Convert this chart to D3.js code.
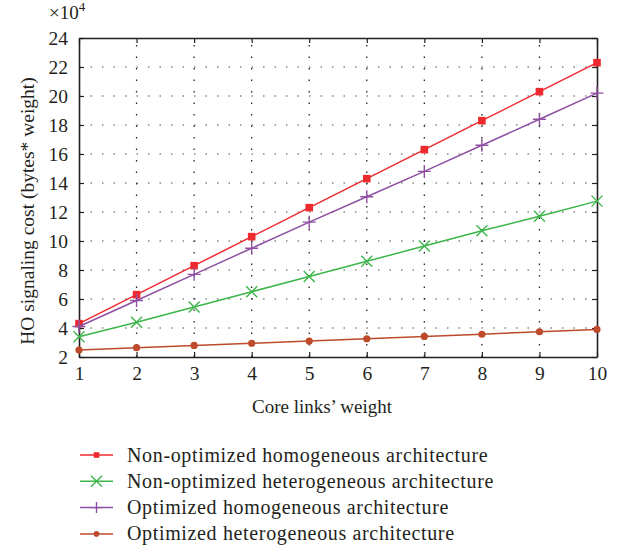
<!DOCTYPE html>
<html>
<head>
<meta charset="utf-8">
<script src="https://cdn.jsdelivr.net/npm/d3@7"></script>
<style>
  body { margin: 0; background: #fff; }
  text { font-family: "Liberation Serif", "DejaVu Serif", serif; fill: #231f20; }
</style>
</head>
<body>
<script>
// core links' weight
var weights = [1, 2, 3, 4, 5, 6, 7, 8, 9, 10]

// HO signaling cost, in units of 10^4
var nonOptHomo = [4.3, 6.3, 8.3, 10.3, 12.3, 14.3, 16.3, 18.3, 20.3, 22.3]
var nonOptHetero = [3.4, 4.4, 5.45, 6.5, 7.55, 8.6, 9.65, 10.7, 11.7, 12.75]
var optHomo = [4.1, 5.9, 7.7, 9.5, 11.3, 13.05, 14.8, 16.6, 18.4, 20.2]
var optHetero = [2.48, 2.64, 2.8, 2.95, 3.1, 3.26, 3.42, 3.57, 3.74, 3.9]

var seriesNames = [
    "Non-optimized homogeneous architecture",
    "Non-optimized heterogeneous architecture",
    "Optimized homogeneous architecture",
    "Optimized heterogeneous architecture"
]

var yTicks = [2, 4, 6, 8, 10, 12, 14, 16, 18, 20, 22, 24]

var width = 619,
    height = 550;

var margin = { left: 79, right: 22, top: 38, bottom: 193 };

var svg = d3.select("body")
    .append("svg")
    .attr("width", width)
    .attr("height", height);

var x = d3.scaleLinear().domain([1, 10]).range([margin.left, width - margin.right]);
var y = d3.scaleLinear().domain([2, 24]).range([height - margin.bottom, margin.top]);

var series = [
    { name: seriesNames[0], values: nonOptHomo, color: "#ee2a2f", marker: "square" },
    { name: seriesNames[1], values: nonOptHetero, color: "#3cb54a", marker: "x" },
    { name: seriesNames[2], values: optHomo, color: "#8e4fa2", marker: "plus" },
    { name: seriesNames[3], values: optHetero, color: "#bd4a2a", marker: "circle" }
]

// grille pointillee
var grid = svg.append("g");
grid.selectAll(".hgrid")
    .data(yTicks.slice(1, -1))
    .join("line")
    .attr("x1", x(1)).attr("x2", x(10))
    .attr("y1", d => y(d)).attr("y2", d => y(d))
    .attr("stroke", "#888")
    .attr("stroke-width", 1.3)
    .attr("stroke-dasharray", "1.5,10");
grid.selectAll(".vgrid")
    .data(weights.slice(1, -1))
    .join("line")
    .attr("x1", d => x(d)).attr("x2", d => x(d))
    .attr("y1", y(2)).attr("y2", y(24))
    .attr("stroke", "#222")
    .attr("stroke-width", 1.3)
    .attr("stroke-dasharray", "1.5,10");

// axes avec ticks vers l'interieur
var axisBottom = svg.append("g")
    .attr("transform", `translate(0,${y(2)})`)
    .call(d3.axisBottom(x).tickValues(weights).tickSizeInner(-5).tickSizeOuter(0).tickPadding(9));
var axisLeft = svg.append("g")
    .attr("transform", `translate(${x(1)},0)`)
    .call(d3.axisLeft(y).tickValues(yTicks).tickSizeInner(-5).tickSizeOuter(0).tickPadding(11));
var axisTop = svg.append("g")
    .attr("transform", `translate(0,${y(24)})`)
    .call(d3.axisTop(x).tickValues(weights).tickSizeInner(-5).tickSizeOuter(0).tickFormat(""));
var axisRight = svg.append("g")
    .attr("transform", `translate(${x(10)},0)`)
    .call(d3.axisRight(y).tickValues(yTicks).tickSizeInner(-5).tickSizeOuter(0).tickFormat(""));

[axisBottom, axisLeft, axisTop, axisRight].forEach(a => {
    a.select(".domain").attr("stroke", "#231f20").attr("stroke-width", 1.6);
    a.selectAll(".tick line").attr("stroke", "#231f20").attr("stroke-width", 1.2);
    a.selectAll("text").style("font-size", "19.5px").attr("fill", "#231f20");
});

// multiplicateur
var mult = svg.append("text").attr("x", 49).attr("y", 19).style("font-size", "19px");
mult.append("tspan").text("\u00d710");
mult.append("tspan").attr("dy", -8).style("font-size", "13px").text("4");

// titres des axes
svg.append("text")
    .attr("x", 322)
    .attr("y", 413)
    .attr("text-anchor", "middle")
    .style("font-size", "19px")
    .text("Core links\u2019 weight");

svg.append("text")
    .attr("transform", `translate(34,211) rotate(-90)`)
    .attr("text-anchor", "middle")
    .style("font-size", "19.5px")
    .text("HO signaling cost (bytes* weight)");

function drawMarker(g, type, color, cx, cy, s) {
    if (type == "square") {
        g.append("rect").attr("x", cx - s).attr("y", cy - s).attr("width", 2 * s).attr("height", 2 * s).attr("fill", color);
    } else if (type == "circle") {
        g.append("circle").attr("cx", cx).attr("cy", cy).attr("r", s).attr("fill", color);
    } else if (type == "x") {
        g.append("path").attr("d", `M${cx - s},${cy - s}L${cx + s},${cy + s}M${cx - s},${cy + s}L${cx + s},${cy - s}`)
            .attr("stroke", color).attr("stroke-width", 1.4).attr("fill", "none");
    } else {
        g.append("path").attr("d", `M${cx - s},${cy}L${cx + s},${cy}M${cx},${cy - s}L${cx},${cy + s}`)
            .attr("stroke", color).attr("stroke-width", 1.4).attr("fill", "none");
    }
}

var markerSize = { square: 3.8, circle: 3.6, x: 5.5, plus: 6.5 };
var legendMarkerSize = { square: 2.8, circle: 2.8, x: 5.5, plus: 5.5 };

var line = d3.line()
    .x((d, i) => x(weights[i]))
    .y(d => y(d));

series.forEach(s => {
    var g = svg.append("g");
    g.append("path")
        .attr("d", line(s.values))
        .attr("fill", "none")
        .attr("stroke", s.color)
        .attr("stroke-width", 1.5);
    s.values.forEach((v, i) => drawMarker(g, s.marker, s.color, x(weights[i]), y(v), markerSize[s.marker]));
});

// legende
var legend = svg.append("g");
series.forEach((s, i) => {
    var ly = 455 + i * 26.3;
    legend.append("line")
        .attr("x1", 80).attr("x2", 113)
        .attr("y1", ly).attr("y2", ly)
        .attr("stroke", s.color).attr("stroke-width", 1.5);
    drawMarker(legend, s.marker, s.color, 96.5, ly, legendMarkerSize[s.marker]);
    legend.append("text")
        .attr("x", 127).attr("y", ly + 6.5)
        .style("font-size", "20px")
        .style("letter-spacing", "0.65px")
        .text(s.name);
});
</script>
</body>
</html>
